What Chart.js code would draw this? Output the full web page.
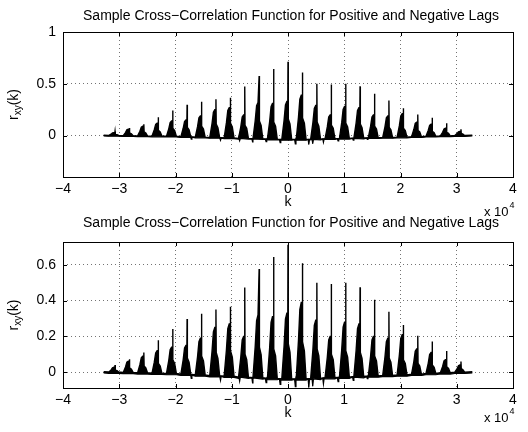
<!DOCTYPE html>
<html>
<head>
<meta charset="utf-8">
<script src="https://cdn.jsdelivr.net/npm/chart.js@4.4.1/dist/chart.umd.min.js"></script>
<style>
  html, body { margin: 0; padding: 0; background: #fff; }
  #wrap { position: relative; width: 528px; height: 432px; }
  canvas { position: absolute; left: 0; }
</style>
</head>
<body>
<div id="wrap">
  <canvas id="c1" width="528" height="232" style="top:0;width:528px;height:232px"></canvas>
  <canvas id="c2" width="528" height="216" style="top:216px;width:528px;height:216px"></canvas>
</div>
<script>
// values (lag k, r_xy(k))
const spikeLags = [-30750, -28190, -25630, -23070, -20500, -17940, -15380, -12810, -10250, -7690, -5130, -2560,
  0, 2560, 5130, 7690, 10250, 12810, 15380, 17940, 20500, 23070, 25630, 28190, 30750];
const spikePeaks = [0.040, 0.073, 0.110, 0.178, 0.241, 0.297, 0.327, 0.350, 0.366, 0.473, 0.576, 0.643,
  0.712, 0.609, 0.500, 0.493, 0.500, 0.475, 0.404, 0.338, 0.264, 0.204, 0.172, 0.118, 0.060];
const leftShoulders = [0.028, 0.062, 0.090, 0.120, 0.140, 0.150, 0.190, 0.250, 0.270, 0.200, 0.320, 0.310,
  0.330, 0.390, 0.290, 0.200, 0.280, 0.270, 0.200, 0.190, 0.210, 0.130, 0.110, 0.070, 0.040];
const rightShoulders = [0.012, 0.025, 0.035, 0.050, 0.070, 0.080, 0.090, 0.110, 0.120, 0.100, 0.140, 0.130,
  0.160, 0.170, 0.130, 0.100, 0.120, 0.110, 0.090, 0.080, 0.070, 0.050, 0.040, 0.030, 0.020];
const spikeBase = [-0.002, -0.004, -0.006, -0.008, -0.010, -0.014, -0.018, -0.022, -0.025, -0.030, -0.034, -0.038,
  -0.040, -0.040, -0.037, -0.033, -0.030, -0.027, -0.024, -0.021, -0.018, -0.014, -0.010, -0.006, -0.003];
const endLags = [-32767, 32767];
const endBase = [0, 0];
// narrow downward noise spikes on the baseline: lag, level around it, lowest value
const dipLags = [-17200, -12000, -8600, -6300, -3900, -1400, 1300, 3700, 4400, 6300, 8900, 11600, 14100];
const dipLevels = [-0.016, -0.024, -0.028, -0.032, -0.036, -0.039, -0.040, -0.038, -0.037, -0.034, -0.031, -0.028, -0.025];
const dipValues = [-0.035, -0.045, -0.050, -0.060, -0.058, -0.068, -0.080, -0.085, -0.078, -0.065, -0.052, -0.045, -0.036];

const xTicks = [-40000, -30000, -20000, -10000, 0, 10000, 20000, 30000, 40000];
const yTicksTop = [0, 0.5, 1];
const yTicksBottom = [0, 0.2, 0.4, 0.6];

const titleText = 'Sample Cross\u2212Correlation Function for Positive and Negative Lags';
const FONT = '"Liberation Sans", Arial, Helvetica, sans-serif';
const FS = 14;

// upper and lower edge of the black trace
let upper = [{x: endLags[0], y: endBase[0] + 0.003}];
let lower = [{x: endLags[0], y: endBase[0] - 0.004}];
spikeLags.forEach((k, i) => {
  const b = spikeBase[i], s = leftShoulders[i], r = rightShoulders[i], p = spikePeaks[i];
  upper.push({x: k - 1100, y: b + 0.003});
  upper.push({x: k - 700, y: b + 0.5 * (s - b)});
  upper.push({x: k - 450, y: s * 0.9});
  upper.push({x: k - 200, y: s});
  upper.push({x: k - 30, y: s});
  upper.push({x: k, y: p});
  upper.push({x: k + 50, y: r});
  upper.push({x: k + 350, y: r * 0.7});
  upper.push({x: k + 650, y: b + 0.003});
  lower.push({x: k - 1100, y: b - 0.004});
  lower.push({x: k + 650, y: b - 0.004});
});
dipLags.forEach((k, i) => {
  lower.push({x: k - 120, y: dipLevels[i]});
  lower.push({x: k, y: dipValues[i]});
  lower.push({x: k + 120, y: dipLevels[i]});
});
upper.push({x: endLags[1], y: endBase[1] + 0.003});
lower.push({x: endLags[1], y: endBase[1] - 0.004});
lower.sort((a, b) => a.x - b.x);

function fmt(v) {
  return String(v).replace('-', '\u2212');
}

// box, inward ticks, title, axis labels like the matlab figure
const decor = {
  id: 'decor',
  afterDraw(chart) {
    const ctx = chart.ctx, a = chart.chartArea;
    const xs = chart.scales.x, ys = chart.scales.y;
    const o = chart.options.plugins.decor;
    ctx.save();
    ctx.strokeStyle = '#000';
    ctx.lineWidth = 1;
    ctx.strokeRect(Math.round(a.left) + 0.5, Math.round(a.top) + 0.5, Math.round(a.right - a.left), Math.round(a.bottom - a.top));
    ctx.beginPath();
    xs.ticks.forEach(t => {
      const px = Math.round(xs.getPixelForValue(t.value)) + 0.5;
      ctx.moveTo(px, a.bottom); ctx.lineTo(px, a.bottom - 4);
      ctx.moveTo(px, a.top); ctx.lineTo(px, a.top + 4);
    });
    ys.ticks.forEach(t => {
      const py = Math.round(ys.getPixelForValue(t.value)) + 0.5;
      ctx.moveTo(a.left, py); ctx.lineTo(a.left + 4, py);
      ctx.moveTo(a.right, py); ctx.lineTo(a.right - 4, py);
    });
    ctx.stroke();

    ctx.fillStyle = '#000';
    ctx.textAlign = 'center';
    ctx.textBaseline = 'middle';
    ctx.font = FS + 'px ' + FONT;
    const cx = (a.left + a.right) / 2;
    ctx.fillText(titleText, cx + 3, a.top - o.titleGap);
    ctx.fillText('k', cx, a.bottom + 25);

    // x 10^4
    ctx.textAlign = 'left';
    ctx.font = '13px ' + FONT;
    const wx = ctx.measureText('x 10').width;
    ctx.fillText('x 10', 484, a.bottom + o.expGap);
    ctx.font = '9px ' + FONT;
    ctx.fillText('4', 485 + wx, a.bottom + o.expGap - 6);

    // r_xy(k)
    ctx.translate(14, (a.top + a.bottom) / 2);
    ctx.rotate(-Math.PI / 2);
    ctx.font = FS + 'px ' + FONT;
    const w1 = ctx.measureText('r').width;
    const w3 = ctx.measureText('(k)').width;
    ctx.font = '10px ' + FONT;
    const w2 = ctx.measureText('xy').width;
    let x0 = -(w1 + w2 + w3) / 2;
    ctx.font = FS + 'px ' + FONT;
    ctx.fillText('r', x0, 0);
    ctx.font = '10px ' + FONT;
    ctx.fillText('xy', x0 + w1, 4);
    ctx.font = FS + 'px ' + FONT;
    ctx.fillText('(k)', x0 + w1 + w2, 0);
    ctx.restore();
  }
};

function makeChart(id, yMin, yMax, yTicks, padTop, xHeight, titleGap, expGap) {
  return new Chart(document.getElementById(id), {
    type: 'line',
    data: {
      datasets: [{
        data: lower,
        borderColor: '#000',
        borderWidth: 1.2,
        pointRadius: 0,
        fill: false
      }, {
        data: upper,
        borderColor: '#000',
        borderWidth: 1.4,
        pointRadius: 0,
        backgroundColor: '#000',
        fill: '-1'
      }]
    },
    options: {
      responsive: false,
      animation: false,
      events: [],
      layout: { padding: { top: padTop, right: 15, left: 0, bottom: 0 } },
      plugins: {
        legend: { display: false },
        tooltip: { enabled: false },
        decor: { titleGap: titleGap, expGap: expGap }
      },
      scales: {
        x: {
          type: 'linear',
          min: -40000,
          max: 40000,
          afterBuildTicks: s => { s.ticks = xTicks.map(v => ({ value: v })); },
          afterFit: s => { s.height = xHeight; },
          ticks: {
            color: '#000',
            padding: 4,
            maxRotation: 0,
            font: { size: FS, family: FONT },
            callback: v => fmt(v / 10000)
          },
          grid: { color: 'rgba(0,0,0,0.55)', drawTicks: false },
          border: { display: false, dash: [1, 3] }
        },
        y: {
          type: 'linear',
          min: yMin,
          max: yMax,
          afterBuildTicks: s => { s.ticks = yTicks.map(v => ({ value: v })); },
          afterFit: s => { s.width = 63; },
          ticks: {
            color: '#000',
            padding: 7,
            font: { size: FS, family: FONT },
            callback: v => fmt(v)
          },
          grid: { color: 'rgba(0,0,0,0.55)', drawTicks: false },
          border: { display: false, dash: [1, 3] }
        }
      }
    },
    plugins: [decor]
  });
}

makeChart('c1', -0.4, 1, yTicksTop, 32, 55, 16, 35);
makeChart('c2', -0.088, 0.727, yTicksBottom, 26, 44, 19, 30);
</script>
</body>
</html>
